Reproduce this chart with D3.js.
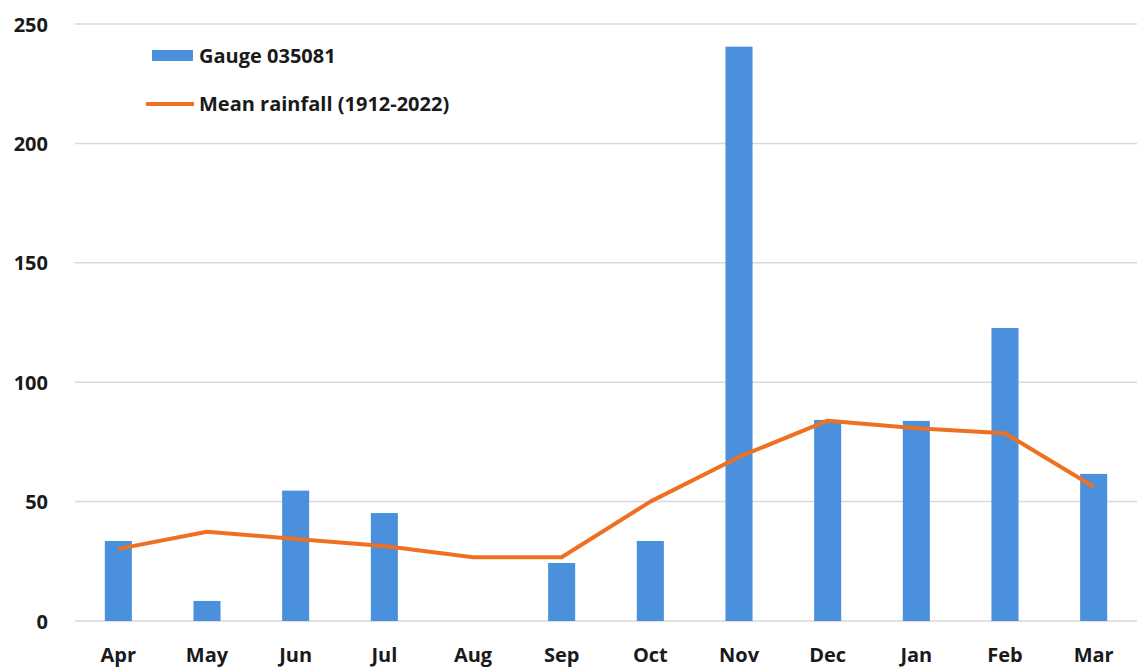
<!DOCTYPE html>
<html>
<head>
<meta charset="utf-8">
<script src="https://cdn.jsdelivr.net/npm/d3@7"></script>
<style>
  html, body { margin: 0; padding: 0; background: #fff; }
  svg text { font-family: "Open Sans", "Liberation Sans", sans-serif; font-weight: 700; fill: #1a1a1a; }
</style>
</head>
<body>
<svg id="chart" width="1137" height="669"></svg>
<script>
// Monthly rainfall (mm): gauge record vs long-term mean
const months = ["Apr","May","Jun","Jul","Aug","Sep","Oct","Nov","Dec","Jan","Feb","Mar"];
const gaugeValues = [33.5, 8.4, 54.6, 45.2, 0, 24.3, 33.5, 240.5, 84.2, 83.8, 122.7, 61.6];
const meanValues = [30.2, 37.4, 34.3, 31.4, 26.7, 26.7, 50.0, 68.7, 83.9, 80.7, 78.6, 56.2];
const yTicks = [0, 50, 100, 150, 200, 250];
const seriesNames = ["Gauge 035081", "Mean rainfall (1912-2022)"];

const svg = d3.select("#chart");
const plot = { left: 74, right: 1138, top: 24, bottom: 621 };

const x = d3.scaleBand().domain(months).range([plot.left, plot.right]).paddingInner(0.695).paddingOuter(0.3475);
const y = d3.scaleLinear().domain([0, 250]).range([plot.bottom, plot.top]);

// horizontal gridlines
svg.append("g")
  .selectAll("line")
  .data(yTicks)
  .join("line")
  .attr("x1", plot.left + 1).attr("x2", plot.right)
  .attr("y1", d => y(d)).attr("y2", d => y(d))
  .attr("stroke", "#d9d9d9")
  .attr("stroke-width", 1.5);

// y axis labels
const yAxis = d3.axisLeft(y).tickValues(yTicks).tickSize(0).tickPadding(0);
svg.append("g")
  .attr("transform", "translate(48,0)")
  .call(yAxis)
  .call(g => g.select(".domain").remove())
  .selectAll("text")
  .style("font-size", "20px")
  .attr("dy", "0.35em");

// x axis labels
const xAxis = d3.axisBottom(x).tickSize(0).tickPadding(0);
svg.append("g")
  .attr("transform", "translate(0,648)")
  .call(xAxis)
  .call(g => g.select(".domain").remove())
  .selectAll("text")
  .style("font-size", "20px")
  .attr("dy", "0.35em")
  .attr("y", 7);

// bars
svg.append("g")
  .selectAll("rect")
  .data(months.map((m, i) => ({ m, v: gaugeValues[i] })))
  .join("rect")
  .attr("x", d => x(d.m))
  .attr("width", x.bandwidth())
  .attr("y", d => y(d.v))
  .attr("height", d => y(0) - y(d.v))
  .attr("fill", "#4a90dc");

// mean line
const line = d3.line()
  .x((d, i) => x(months[i]) + x.bandwidth() / 2)
  .y(d => y(d));
svg.append("path")
  .datum(meanValues)
  .attr("d", line)
  .attr("fill", "none")
  .attr("stroke", "#f07022")
  .attr("stroke-width", 4)
  .attr("stroke-linejoin", "round");

// legend
const legend = svg.append("g");
legend.append("rect")
  .attr("x", 152).attr("y", 50).attr("width", 41).attr("height", 11)
  .attr("fill", "#4a90dc");
legend.append("text")
  .attr("x", 199).attr("y", 56).attr("dy", "0.35em")
  .style("font-size", "20px")
  .text(seriesNames[0]);
legend.append("line")
  .attr("x1", 146).attr("x2", 194).attr("y1", 104).attr("y2", 104)
  .attr("stroke", "#f07022").attr("stroke-width", 4);
legend.append("text")
  .attr("x", 199).attr("y", 104).attr("dy", "0.35em")
  .style("font-size", "20px")
  .text(seriesNames[1]);
</script>
</body>
</html>
